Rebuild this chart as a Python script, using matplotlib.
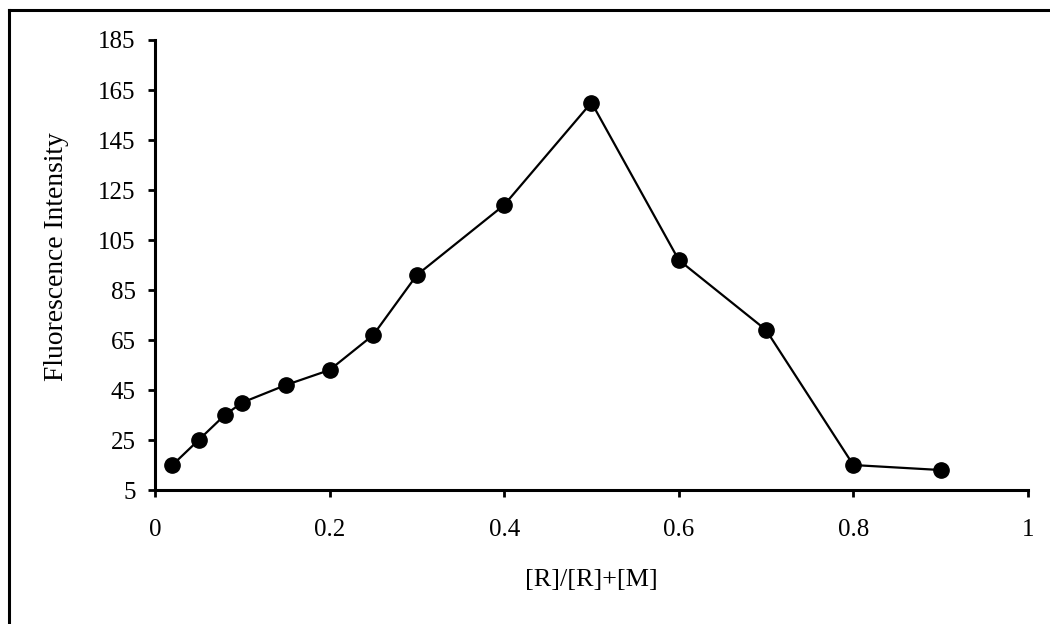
import matplotlib
matplotlib.use('Agg')
import matplotlib.pyplot as plt
from matplotlib import font_manager
from matplotlib.lines import Line2D

# Job's plot data
ratio = [0.02, 0.05, 0.08, 0.1, 0.15, 0.2, 0.25, 0.3, 0.4, 0.5, 0.6, 0.7, 0.8, 0.9]
intensity = [15, 25, 35, 40, 47, 53, 67, 91, 119, 160, 97, 69, 15, 13]

x_ticks = [0, 0.2, 0.4, 0.6, 0.8, 1]
x_tick_labels = ['0', '0.2', '0.4', '0.6', '0.8', '1']
y_ticks = [5, 25, 45, 65, 85, 105, 125, 145, 165, 185]

names = sorted({f.name for f in font_manager.fontManager.ttflist})
serif = [n for n in names if 'Liberation Serif' in n or 'Times' in n]
plt.rcParams['font.family'] = serif + ['DejaVu Serif']

fig = plt.figure(figsize=(10.5, 6.24), dpi=100)
ax = fig.add_axes([0.1476, 0.2147, 0.979 - 0.1476, 0.9359 - 0.2147])

ax.plot(ratio, intensity, color='black', linewidth=1.6,
        marker='o', markersize=11, markerfacecolor='black', markeredgecolor='black')

ax.set_xlim(0, 1)
ax.set_ylim(5, 185)
ax.set_xticks(x_ticks)
ax.set_xticklabels(x_tick_labels)
ax.set_yticks(y_ticks)

for side in ['top', 'right']:
    ax.spines[side].set_visible(False)
for side in ['left', 'bottom']:
    ax.spines[side].set_linewidth(2.2)

ax.tick_params(axis='both', direction='out', length=5, width=2, labelsize=18, colors='black')
ax.tick_params(axis='x', pad=16)
ax.tick_params(axis='y', pad=9)

ax.set_xlabel('[R]/[R]+[M]', fontsize=18.8, labelpad=20)
ax.set_ylabel('Fluorescence Intensity', fontsize=19.8, labelpad=21)
ax.yaxis.label.set_y(0.518)

# Frame of the chart area (left and top edges visible)
fig.add_artist(Line2D([8.5 / 1050, 8.5 / 1050], [0, 1 - 10 / 624], transform=fig.transFigure,
                      color='black', linewidth=2.2))
fig.add_artist(Line2D([8.5 / 1050, 1], [1 - 10 / 624, 1 - 10 / 624], transform=fig.transFigure,
                      color='black', linewidth=2.2))

fig.savefig('out.png', dpi=100)
